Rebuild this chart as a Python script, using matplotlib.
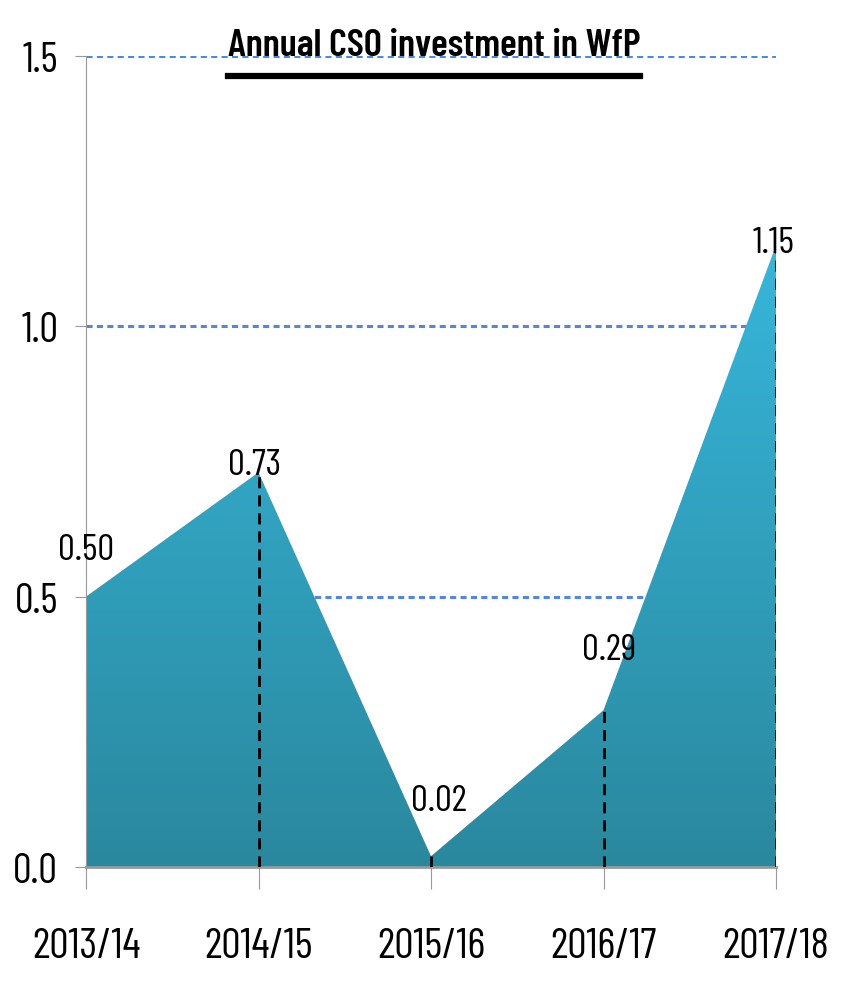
import matplotlib
matplotlib.use("Agg")
import matplotlib.pyplot as plt
import numpy as np
from matplotlib.colors import LinearSegmentedColormap
from matplotlib.lines import Line2D
from matplotlib import font_manager

years = ["2013/14", "2014/15", "2015/16", "2016/17", "2017/18"]
values = [0.50, 0.73, 0.02, 0.29, 1.15]
labels = ["0.50", "0.73", "0.02", "0.29", "1.15"]
yticks = [0.0, 0.5, 1.0, 1.5]

names = set(f.name for f in font_manager.fontManager.ttflist)
narrow = "Barlow Condensed" if "Barlow Condensed" in names else "DejaVu Sans"
plt.rcParams['font.family'] = [narrow, 'DejaVu Sans']

fig = plt.figure(figsize=(8.44, 9.87), dpi=100)
ax = fig.add_axes([86/844, 1-868/987, 690/844, 811/987])

x = np.arange(len(years))
poly = ax.fill_between(x, values, 0, color='none', lw=0, zorder=2)
cmap = LinearSegmentedColormap.from_list("g", ["#2A889E", "#37B6DA"])
grad = np.linspace(0, 1, 256).reshape(-1, 1)
img = ax.imshow(grad, extent=[0, 4, 0, max(values)], origin='lower', cmap=cmap,
                aspect='auto', zorder=2)
img.set_clip_path(poly.get_paths()[0], transform=ax.transData)

for i in range(1, len(values)):
    ax.plot([x[i], x[i]], [0, values[i]], color='black', lw=2, ls=(0, (4, 2.5)), zorder=3)

# label offsets in points (dx, dy)
offs = [(0, 22), (-3, -6), (6, 28), (4, 32), (-2, -10)]
for i, v in enumerate(values):
    ax.annotate(labels[i], (x[i], v), xytext=offs[i], textcoords='offset points',
                ha='center', va='bottom', fontsize=27)

ax.set_xlim(0, 4)
ax.set_ylim(0, 1.5)
ax.set_yticks(yticks)
ax.set_yticklabels(["%.1f" % t for t in yticks])
ax.set_xticks(x)
ax.set_xticklabels(years)
ax.yaxis.grid(True, color='#4F88DE', ls=(0, (2, 1.4)), lw=2.2)
ax.set_axisbelow(True)
for s in ['top', 'right']:
    ax.spines[s].set_visible(False)
ax.spines['left'].set_color('#999999')
ax.spines['bottom'].set_color('#999999')
ax.spines['bottom'].set_linewidth(2)
ax.tick_params(axis='y', length=8, color='#999999', labelsize=30, pad=12)
ax.tick_params(axis='x', length=16, color='#999999', labelsize=31, pad=27)

t = fig.text(0.514, 1-56/987, "Annual CSO investment in WfP", ha='center',
             va='baseline', fontsize=28, fontweight='semibold')
fig.canvas.draw()
bb = t.get_window_extent().transformed(fig.transFigure.inverted())
fig.add_artist(Line2D([bb.x0, bb.x1], [1-77/987, 1-77/987], color='black', lw=4.5,
                      transform=fig.transFigure))

fig.savefig("out.png", dpi=100)
